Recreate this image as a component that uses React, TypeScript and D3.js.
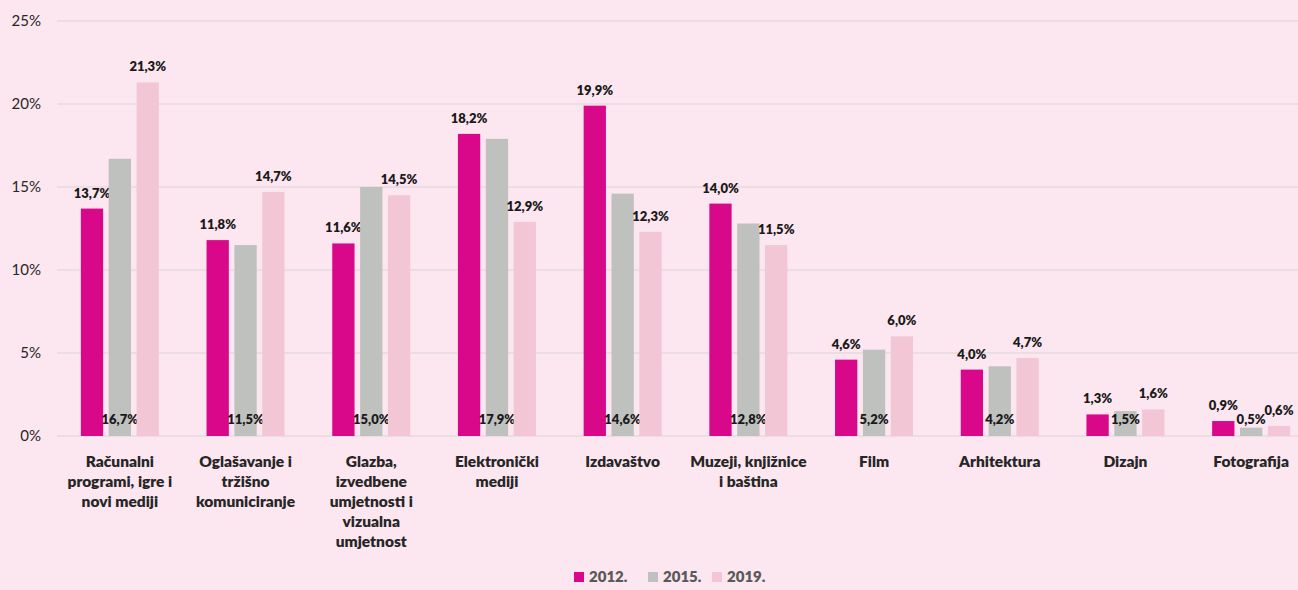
import React, { useEffect, useRef } from 'react';
import * as d3 from 'd3';

const categories = [
  ['Računalni', 'programi, igre i', 'novi mediji'],
  ['Oglašavanje i', 'tržišno', 'komuniciranje'],
  ['Glazba,', 'izvedbene', 'umjetnosti i', 'vizualna', 'umjetnost'],
  ['Elektronički', 'mediji'],
  ['Izdavaštvo'],
  ['Muzeji, knjižnice', 'i baština'],
  ['Film'],
  ['Arhitektura'],
  ['Dizajn'],
  ['Fotografija'],
];
const years = ['2012.', '2015.', '2019.'];
const v2012 = [13.7, 11.8, 11.6, 18.2, 19.9, 14.0, 4.6, 4.0, 1.3, 0.9];
const v2015 = [16.7, 11.5, 15.0, 17.9, 14.6, 12.8, 5.2, 4.2, 1.5, 0.5];
const v2019 = [21.3, 14.7, 14.5, 12.9, 12.3, 11.5, 6.0, 4.7, 1.6, 0.6];
const yTicks = [0, 5, 10, 15, 20, 25];
const colors = ['#d9078a', '#bfc1be', '#f2c6d5'];

const W = 1298, H = 590;
const font = 'Lato, "Open Sans", sans-serif';

const App = () => {
  const ref = useRef<SVGSVGElement>(null);

  useEffect(() => {
    const svg = d3.select(ref.current);
    svg.selectAll('*').remove();

    const series = [v2012, v2015, v2019];
    const x0 = d3.scaleBand().domain(d3.range(categories.length).map(String)).range([57, 1314]);
    const x1 = d3.scaleBand().domain(years).range([x0.bandwidth() / 2 - 39, x0.bandwidth() / 2 + 39]).paddingInner(0.2);
    const y = d3.scaleLinear().domain([0, 25]).range([436, 21]);

    svg.append('rect').attr('width', W).attr('height', H).attr('fill', '#fce6ef');

    // grid + y labels
    svg.append('g').selectAll('line').data(yTicks).join('line')
      .attr('x1', 57).attr('x2', W)
      .attr('y1', d => y(d)).attr('y2', d => y(d))
      .attr('stroke', '#d9d4d6').attr('stroke-width', 1.2);
    svg.append('g').selectAll('text').data(yTicks).join('text')
      .attr('x', 41).attr('y', d => y(d)).attr('dy', '0.35em')
      .attr('text-anchor', 'end')
      .style('font', `15px ${font}`).attr('fill', '#262626')
      .text(d => `${d}%`);

    // bars
    const groups = svg.append('g').selectAll('g').data(categories).join('g')
      .attr('transform', (d, i) => `translate(${x0(String(i))},0)`);

    series.forEach((vals, si) => {
      groups.append('rect')
        .attr('x', x1(years[si])!)
        .attr('width', x1.bandwidth())
        .attr('y', (d, i) => y(vals[i]))
        .attr('height', (d, i) => y(0) - y(vals[i]))
        .attr('fill', colors[si]);

      // 2015 labels sit at the bar base, others above the bar
      groups.append('text')
        .attr('x', x1(years[si])! + x1.bandwidth() / 2)
        .attr('y', (d, i) => (si === 1 ? y(0) - 12 : y(vals[i]) - 11))
        .attr('text-anchor', 'middle')
        .style('font', `800 13px ${font}`).attr('fill', '#1a1a1a')
        .text((d, i) => vals[i].toFixed(1).replace('.', ',') + '%');
    });

    // category labels
    groups.append('text')
      .attr('text-anchor', 'middle')
      .style('font', `800 15.5px ${font}`).attr('fill', '#262626')
      .selectAll('tspan').data(d => d).join('tspan')
        .attr('x', x0.bandwidth() / 2)
        .attr('y', (d, i) => 467 + i * 20)
        .text(d => d);

    // legend
    const legend = svg.append('g').attr('transform', 'translate(574,581)');
    const lx = [0, 74, 138];
    years.forEach((yr, i) => {
      legend.append('rect').attr('x', lx[i]).attr('y', -9).attr('width', 10).attr('height', 10).attr('fill', colors[i]);
      legend.append('text').attr('x', lx[i] + 15).attr('y', 0)
        .attr('dy', '0.05em')
        .style('font', `800 15px ${font}`).attr('fill', '#595959')
        .text(yr);
    });
  }, []);

  return <svg ref={ref} width={W} height={H} style={{ position: 'absolute', left: 0, top: 0 }}></svg>;
};

export default App;
